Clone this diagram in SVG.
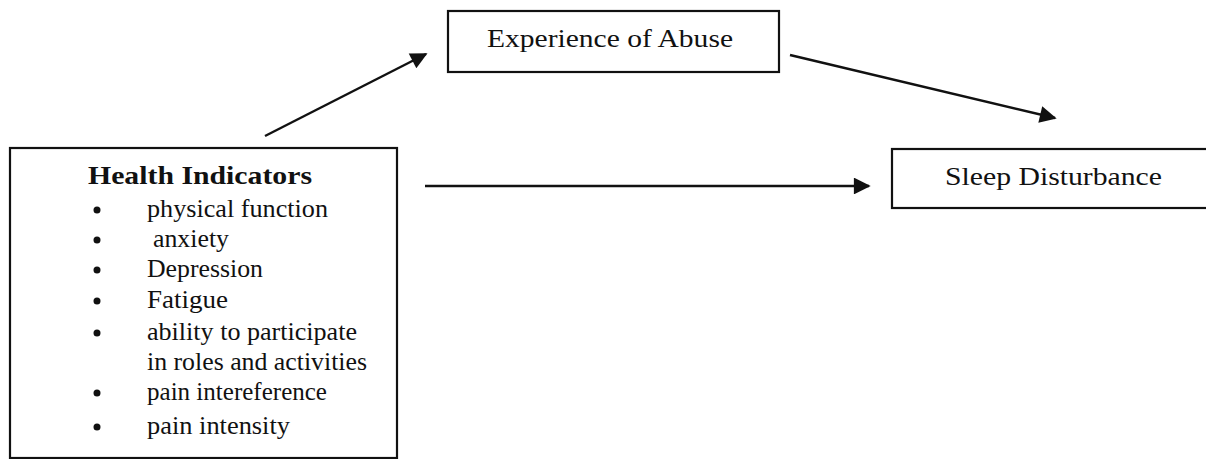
<svg xmlns="http://www.w3.org/2000/svg" width="1206" height="459" viewBox="0 0 1206 459">
<style>
.box{fill:#fff;stroke:#111;stroke-width:2.2}
.t{font-family:"Liberation Serif","Times New Roman",serif;fill:#111;font-size:25px}
.b{font-weight:bold;font-size:26px}
.c{stroke:#111;stroke-width:2.4;fill:none}
</style>
<defs>
<marker id="ah" viewBox="0 0 10 10" refX="9" refY="5" markerWidth="8" markerHeight="7" markerUnits="strokeWidth" orient="auto">
<path d="M0,0 L10,5 L0,10 z" fill="#111"/>
</marker>
</defs>
<g id="node-experience">
<rect class="box" x="448" y="11" width="331" height="61"/>
<text class="t" x="487" y="47" textLength="246" lengthAdjust="spacingAndGlyphs">Experience of Abuse</text>
</g>
<g id="node-sleep">
<rect class="box" x="892" y="149" width="330" height="59"/>
<text class="t" x="945" y="185" textLength="217" lengthAdjust="spacingAndGlyphs">Sleep Disturbance</text>
</g>
<g id="node-health">
<rect class="box" x="10" y="148" width="387" height="310"/>
<text class="t b" x="88" y="184" textLength="224" lengthAdjust="spacingAndGlyphs">Health Indicators</text>
<g class="t">
<circle cx="97" cy="210" r="3.5"/><text x="147" y="217" textLength="181" lengthAdjust="spacingAndGlyphs">physical function</text>
<circle cx="97" cy="240" r="3.5"/><text x="153" y="247" textLength="76" lengthAdjust="spacingAndGlyphs">anxiety</text>
<circle cx="97" cy="270" r="3.5"/><text x="147" y="277" textLength="116" lengthAdjust="spacingAndGlyphs">Depression</text>
<circle cx="97" cy="301" r="3.5"/><text x="147" y="308" textLength="81" lengthAdjust="spacingAndGlyphs">Fatigue</text>
<circle cx="97" cy="333" r="3.5"/><text x="147" y="340" textLength="210" lengthAdjust="spacingAndGlyphs">ability to participate</text>
<text x="147" y="370" textLength="220" lengthAdjust="spacingAndGlyphs">in roles and activities</text>
<circle cx="97" cy="393" r="3.5"/><text x="147" y="400" textLength="180" lengthAdjust="spacingAndGlyphs">pain intereference</text>
<circle cx="97" cy="427" r="3.5"/><text x="147" y="434" textLength="143" lengthAdjust="spacingAndGlyphs">pain intensity</text>
</g>
</g>
<g id="connectors">
<line class="c" x1="265" y1="136" x2="426" y2="54" marker-end="url(#ah)"/>
<line class="c" x1="790" y1="55" x2="1055" y2="118" marker-end="url(#ah)"/>
<line class="c" x1="425" y1="186" x2="869" y2="186" marker-end="url(#ah)"/>
</g>
</svg>
